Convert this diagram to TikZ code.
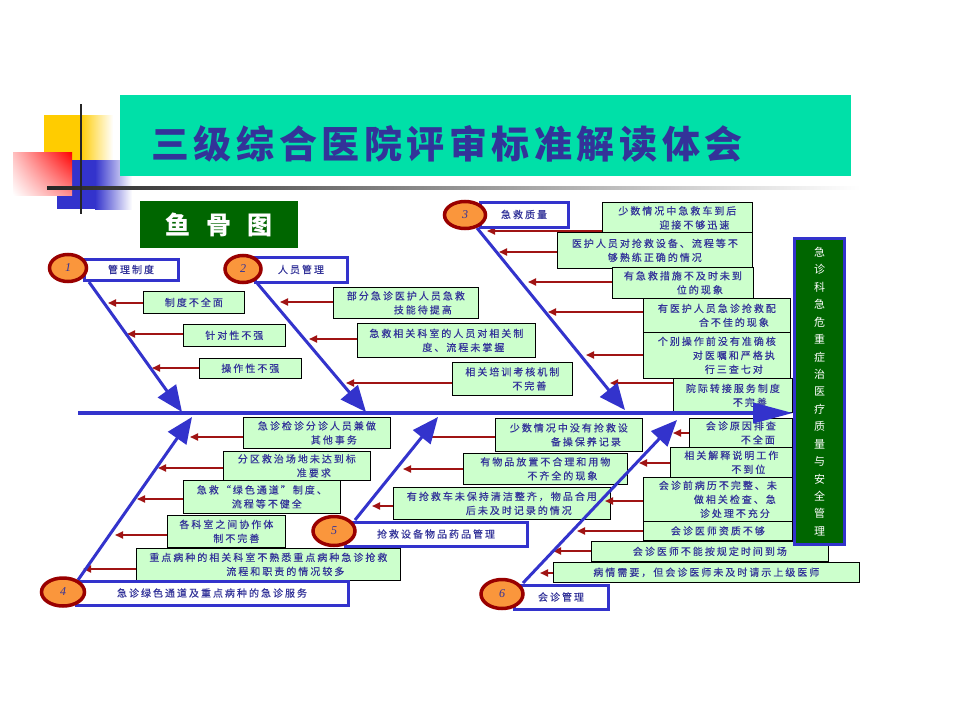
\documentclass[tikz,border=0pt]{standalone}
\usepackage{fontspec}
\setmainfont{Liberation Serif}
\newfontfamily\cjk[LetterSpace=20,FakeBold=0.4]{Noto Sans CJK SC}
\newfontfamily\cjkt[LetterSpace=12]{Noto Sans CJK SC}
\newfontfamily\cjkv{Noto Sans CJK SC}
\usetikzlibrary{arrows.meta,shapes.geometric,shadings}
\definecolor{teal1}{RGB}{0,224,168}
\definecolor{ttl}{RGB}{51,51,153}
\definecolor{bblue}{RGB}{51,51,204}
\definecolor{orng}{RGB}{250,150,60}
\definecolor{dred}{RGB}{153,0,0}
\definecolor{lgreen}{RGB}{204,255,204}
\definecolor{dgreen}{RGB}{0,102,0}
\definecolor{rarr}{RGB}{160,20,20}
\definecolor{yel}{RGB}{255,204,0}
\definecolor{blu}{RGB}{51,51,204}
\newcommand\NLi{\\\hspace*{34pt}}
\tikzset{
 gbox/.style={draw=black, line width=0.7pt, fill=lgreen, text=ttl, inner sep=0pt, align=center, anchor=north west, font=\cjk\fontsize{10}{14}\selectfont},
 lbox/.style={draw=bblue, line width=3pt, fill=white, text=ttl, inner sep=0pt, font=\cjk\fontsize{10}{13}\selectfont},
 numc/.style={ellipse, draw=dred, line width=3.5pt, fill=orng, inner sep=0pt, font=\itshape\fontsize{12}{12}\selectfont, text=ttl},
 bone/.style={draw=bblue, line width=3pt, -{Triangle[length=26pt,width=22pt]}},
 spine/.style={draw=bblue, line width=4pt, -{Triangle[length=40pt,width=20pt]}},
 rarrow/.style={draw=rarr, line width=1.8pt, -{Triangle[length=8pt,width=7pt]}},
}
\begin{document}
\begin{tikzpicture}[x=1pt,y=-1pt]
\useasboundingbox (0,0) rectangle (960,720);
\fill[white] (0,0) rectangle (960,720);
% decoration
\fill[yel] (44,115) rectangle (80,160);
\shade[left color=yel, right color=white] (80,115) rectangle (113,160);
\fill[blu] (57,160) rectangle (95,209);
\shade[left color=blu, right color=white] (95,160) rectangle (132,209);
\shade[upper right=red, lower left=white, upper left=red!25!white, lower right=red!45!white] (13,152) rectangle (72,195);
\shade[left color=black!85, right color=white] (47,186.5) rectangle (860,189.5);
\draw[line width=2.5pt, black!85] (81,104) -- (81,214);
% title
\node[fill=teal1, minimum width=731pt, minimum height=81pt, anchor=north west, inner sep=0pt] (title) at (120,95) {};
\node[text=ttl, font=\cjkt\bfseries\fontsize{38}{40}\selectfont, inner sep=0pt] (ttext) at (447,144) {三级综合医院评审标准解读体会};
\node[fill=dgreen, minimum width=158pt, minimum height=47pt, anchor=north west, inner sep=0pt, text=white, font=\cjkv\bfseries\fontsize{25}{25}\selectfont] (fb) at (140,201) {鱼\hspace{16pt}骨\hspace{16pt}图};
% green boxes
\node[gbox,minimum width=101pt,minimum height=22pt] (a) at (143,291) {制度不全面};
\node[gbox,minimum width=102pt,minimum height=22pt] (b) at (183,324) {针对性不强};
\node[gbox,minimum width=102pt,minimum height=20pt] (c) at (199,358) {操作性不强};
\node[gbox,minimum width=145pt,minimum height=31pt] (d) at (333,287) {部分急诊医护人员急救\NLi 技能待提高};
\node[gbox,minimum width=178pt,minimum height=34pt] (e) at (357,323) {急救相关科室的人员对相关制\NLi 度、流程未掌握};
\node[gbox,minimum width=120pt,minimum height=33pt] (f) at (452,362) {相关培训考核机制\NLi 不完善};
\node[gbox,minimum width=150pt,minimum height=31pt] (g) at (602,202) {少数情况中急救车到后\NLi 迎接不够迅速};
\node[gbox,minimum width=195pt,minimum height=36pt] (h) at (557,232) {医护人员对抢救设备、流程等不\\够熟练正确的情况};
\node[gbox,minimum width=141pt,minimum height=31pt] (i) at (612,267) {有急救措施不及时未到\NLi 位的现象};
\node[gbox,minimum width=147pt,minimum height=34pt] (j) at (643,298) {有医护人员急诊抢救配\NLi 合不佳的现象};
\node[gbox,minimum width=147pt,minimum height=46pt] (k) at (643,332) {个别操作前没有准确核\NLi 对医嘱和严格执\NLi 行三查七对};
\node[gbox,minimum width=119pt,minimum height=34pt] (l) at (673,378) {院际转接服务制度\NLi 不完善};
\node[gbox,minimum width=147pt,minimum height=31pt] (m) at (243,417) {急诊检诊分诊人员兼做\NLi 其他事务};
\node[gbox,minimum width=147pt,minimum height=29pt] (n) at (223,451) {分区救治场地未达到标\NLi 准要求};
\node[gbox,minimum width=157pt,minimum height=33pt] (o) at (183,480) {急救“绿色通道”制度、\\\hspace*{10pt}流程等不健全};
\node[gbox,minimum width=118pt,minimum height=32pt] (p) at (167,515) {各科室之间协作体\\\hspace*{20pt}制不完善};
\node[gbox,minimum width=264pt,minimum height=32pt] (q) at (136,548) {重点病种的相关科室不熟悉重点病种急诊抢救\NLi 流程和职责的情况较多};
\node[gbox,minimum width=147pt,minimum height=33pt] (r) at (495,418) {少数情况中没有抢救设\NLi 备操保养记录};
\node[gbox,minimum width=164pt,minimum height=31pt] (s) at (463,453) {有物品放置不合理和用物\NLi 不齐全的现象};
\node[gbox,minimum width=217pt,minimum height=32pt] (t) at (393,487) {有抢救车未保持清洁整齐，物品合用\NLi 后未及时记录的情况};
\node[gbox,minimum width=103pt,minimum height=29pt] (u) at (689,418) {会诊原因排查\NLi 不全面};
\node[gbox,minimum width=122pt,minimum height=30pt] (v) at (670,447) {相关解释说明工作\NLi 不到位};
\node[gbox,minimum width=149pt,minimum height=44pt] (w) at (643,477) {会诊前病历不完整、未\NLi 做相关检查、急\NLi 诊处理不充分};
\node[gbox,minimum width=149pt,minimum height=19pt] (x) at (643,521) {会诊医师资质不够};
\node[gbox,minimum width=237pt,minimum height=20pt] (y) at (591,541) {会诊医师不能按规定时间到场};
\node[gbox,minimum width=306pt,minimum height=20pt] (z) at (553,562) {病情需要，但会诊医师未及时请示上级医师};
% arrow tips
\coordinate (a-t) at (108,303); \coordinate (b-t) at (127,334); \coordinate (c-t) at (152,368);
\coordinate (d-t) at (280,302); \coordinate (e-t) at (309,339); \coordinate (f-t) at (346,383);
\coordinate (g-t) at (487,231); \coordinate (h-t) at (499,252); \coordinate (i-t) at (528,282);
\coordinate (j-t) at (548,312); \coordinate (k-t) at (586,355); \coordinate (l-t) at (610,383);
\coordinate (m-t) at (190,437); \coordinate (n-t) at (158,468); \coordinate (o-t) at (137,499);
\coordinate (p-t) at (115,535); \coordinate (q-t) at (83,569);
\coordinate (r-t) at (423,437); \coordinate (s-t) at (403,469); \coordinate (t-t) at (372,506);
\coordinate (u-t) at (673,433); \coordinate (v-t) at (639,463); \coordinate (w-t) at (605,501);
\coordinate (x-t) at (577,531); \coordinate (y-t) at (553,551); \coordinate (z-t) at (540,573);
\foreach \n in {a,b,c,d,e,f,g,h,i,j,k,l,m,n,o,p,q,r,s,t,u,v,w,x,y,z}
  \draw[rarrow] (\n.west |- \n-t) -- (\n-t);
% bones
\coordinate (s1) at (89,282);  \coordinate (e1) at (182,412);
\coordinate (s2) at (257,283); \coordinate (e2) at (366,412);
\coordinate (s3) at (477,228); \coordinate (e3) at (625,410);
\coordinate (s4) at (78,580);  \coordinate (e4) at (192,417);
\coordinate (s5) at (355,520); \coordinate (e5) at (438,417);
\coordinate (s6) at (523,583); \coordinate (e6) at (677,420);
\foreach \k in {1,...,6} \draw[bone] (s\k) -- (e\k);
% right box and spine
\node[draw=bblue, line width=3pt, fill=dgreen, minimum width=50pt, minimum height=306pt, anchor=north west, inner sep=0pt] (vbox) at (793,237) {};
\node[text=white, align=center, inner sep=0pt, font=\cjkv\fontsize{11}{17.44}\selectfont] (vt) at (vbox.center) {急\\诊\\科\\急\\危\\重\\症\\治\\医\\疗\\质\\量\\与\\安\\全\\管\\理};
\coordinate (sp0) at (78,413);
\draw[spine] (sp0) -- (vbox.west |- sp0);
% label boxes
\node[lbox, minimum width=94pt, minimum height=21pt] (L1) at (131,269.5) {管理制度};
\node[lbox, minimum width=92pt, minimum height=25pt] (L2) at (301,269.5) {人员管理};
\node[lbox, minimum width=88pt, minimum height=25pt] (L3) at (524,214.5) {急救质量};
\node[lbox, minimum width=272pt, minimum height=24pt] (L4) at (212,593) {急诊绿色通道及重点病种的急诊服务};
\node[lbox, minimum width=182pt, minimum height=24pt] (L5) at (436,534) {抢救设备物品药品管理};
\node[lbox, minimum width=94pt, minimum height=24pt] (L6) at (561,597) {会诊管理};
% circles
\node[numc, minimum width=37pt, minimum height=27pt] (c1) at (68,268) {1};
\node[numc, minimum width=36pt, minimum height=27pt] (c2) at (243,269) {2};
\node[numc, minimum width=41pt, minimum height=27pt] (c3) at (465,215) {3};
\node[numc, minimum width=43pt, minimum height=28pt] (c4) at (63,592) {4};
\node[numc, minimum width=42pt, minimum height=29pt] (c5) at (334,531) {5};
\node[numc, minimum width=42pt, minimum height=29pt] (c6) at (502,594) {6};
\end{tikzpicture}
\end{document}
